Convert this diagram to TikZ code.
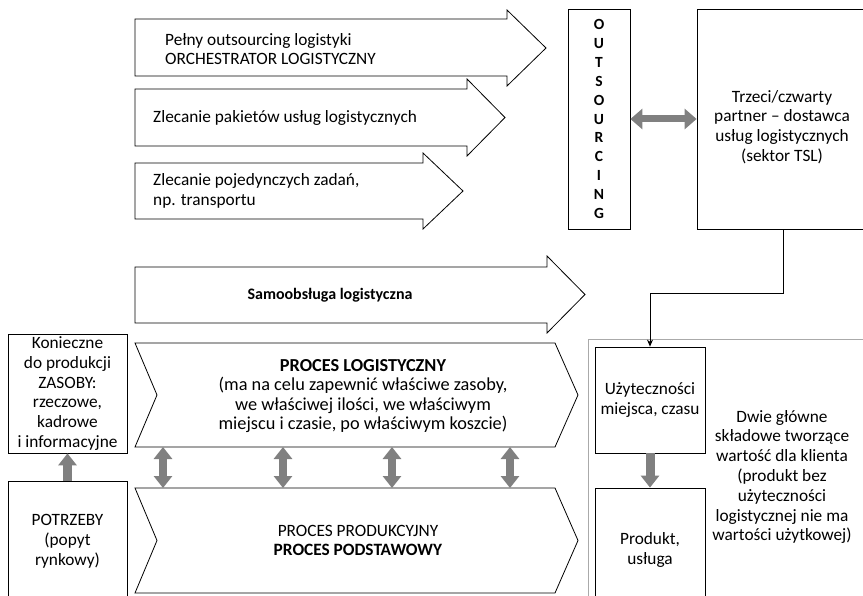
\documentclass[tikz,border=0pt]{standalone}
\usepackage{fontspec}
\setmainfont{Carlito}
\usetikzlibrary{arrows.meta}
\definecolor{agray}{RGB}{128,128,128}
\definecolor{lgray}{RGB}{170,170,170}
\newcommand{\mainfs}{\fontsize{17.3}{19.8}\selectfont}
\newcommand{\chevfs}{\fontsize{18.3}{19.3}\selectfont}
\begin{document}
\begin{tikzpicture}[x=1pt,y=-1pt,
  shapeline/.style={draw=black, line width=0.8pt, fill=white, line join=miter},
  box/.style={draw=black, line width=0.8pt, fill=white, inner sep=0pt, align=center,
              font=\mainfs},
  txt/.style={font=\mainfs, align=center, inner sep=0pt},
  ltxt/.style={font=\mainfs, align=left, anchor=west, inner sep=0pt},
  garrow/.style={draw=agray, line width=9pt, -{Triangle[width=18pt,length=12pt]}},
  gdarrow/.style={draw=agray, line width=7pt, {Triangle[width=20pt,length=12pt]}-{Triangle[width=20pt,length=12pt]}},
  gvarrow/.style={draw=agray, line width=8pt, {Triangle[width=18pt,length=12pt]}-{Triangle[width=18pt,length=12pt]}}
]
\useasboundingbox (0,0) rectangle (863,596);
\fill[white] (0,0) rectangle (863,596);

% block arrows
\draw[shapeline] (135,19) -- (507,19) -- (507,10) -- (546,48) -- (507,86) -- (507,76) -- (135,76) -- cycle;
\node[ltxt] (t1) at (165,49) {Pełny outsourcing logistyki\\ORCHESTRATOR LOGISTYCZNY};
\draw[shapeline] (135,89) -- (467,89) -- (467,79) -- (505,117.5) -- (467,156) -- (467,146) -- (135,146) -- cycle;
\node[ltxt] (t2) at (153,118) {Zlecanie pakietów usług logistycznych};
\draw[shapeline] (135,163) -- (423,163) -- (423,153) -- (463,191) -- (423,229) -- (423,219) -- (135,219) -- cycle;
\node[ltxt] (t3) at (153,191) {Zlecanie pojedynczych zadań,\\np. transportu};
\draw[shapeline] (135,267) -- (547,267) -- (547,256) -- (585,294.5) -- (547,333) -- (547,323) -- (135,323) -- cycle;
\node[txt, font=\fontsize{16}{19.5}\selectfont\bfseries] (t4) at (330,295) {Samoobsługa logistyczna};

% outsourcing and partner
\node[box, minimum width=62, minimum height=220, font=\fontsize{15.5}{18.9}\selectfont\bfseries] (outs) at (599,119)
  {O\\U\\T\\S\\O\\U\\R\\C\\I\\N\\G};
\node[box, minimum width=172, minimum height=220] (tsl) at (783,119) {};
\node[txt] (tsltxt) at (782,127) {Trzeci/czwarty\\partner – dostawca\\usług logistycznych\\(sektor TSL)};
\draw[gdarrow] (outs.east) -- (tsl.west);

% right frame
\draw[draw=lgray, line width=1pt] (588,340) rectangle (880,620);
\node[box, minimum width=110, minimum height=106] (uzy) at (650,400) {Użyteczności\\miejsca, czasu};
\node[box, minimum width=110, minimum height=124] (prod) at (650,550) {Produkt,\\usługa};
\draw[garrow] (uzy.south) -- (prod.north);
\node[txt] (dwie) at (782,477) {Dwie główne\\składowe tworzące\\wartość dla klienta\\(produkt bez\\użyteczności\\logistycznej nie ma\\wartości użytkowej)};
\draw[line width=0.8pt, -{Stealth[length=7pt,width=6pt]}] (tsl.south) -- ++(0,64) -| (uzy.north);

% left boxes
\node[box, minimum width=119, minimum height=119] (kon) at (67.5,393.5)
  {Konieczne\\do produkcji\\ZASOBY:\\rzeczowe,\\kadrowe\\i informacyjne};
\node[box, minimum width=119, minimum height=120] (pot) at (67.5,541) {POTRZEBY\\(popyt\\rynkowy)};
\draw[garrow] (pot.north) -- (kon.south);

% chevrons
\draw[shapeline] (135,343) -- (555,343) -- (578,395) -- (555,447) -- (135,447) -- (157,395) -- cycle;
\node[txt, font=\chevfs] (lg) at (363,396) {\textbf{PROCES LOGISTYCZNY}\\(ma na celu zapewnić właściwe zasoby,\\we właściwej ilości, we właściwym\\miejscu i czasie, po właściwym koszcie)};
\draw[shapeline] (135,488) -- (555,488) -- (578,540.5) -- (555,593) -- (135,593) -- (157,540.5) -- cycle;
\node[txt, font=\fontsize{17.3}{19}\selectfont] (pp) at (358,540) {PROCES PRODUKCYJNY\\\textbf{PROCES PODSTAWOWY}};

\foreach \x [count=\i] in {163,283,392,510} {
  \coordinate (u\i) at (\x,447);
  \coordinate (d\i) at (\x,488);
  \draw[gvarrow] (u\i) -- (d\i);
}
\end{tikzpicture}
\end{document}
